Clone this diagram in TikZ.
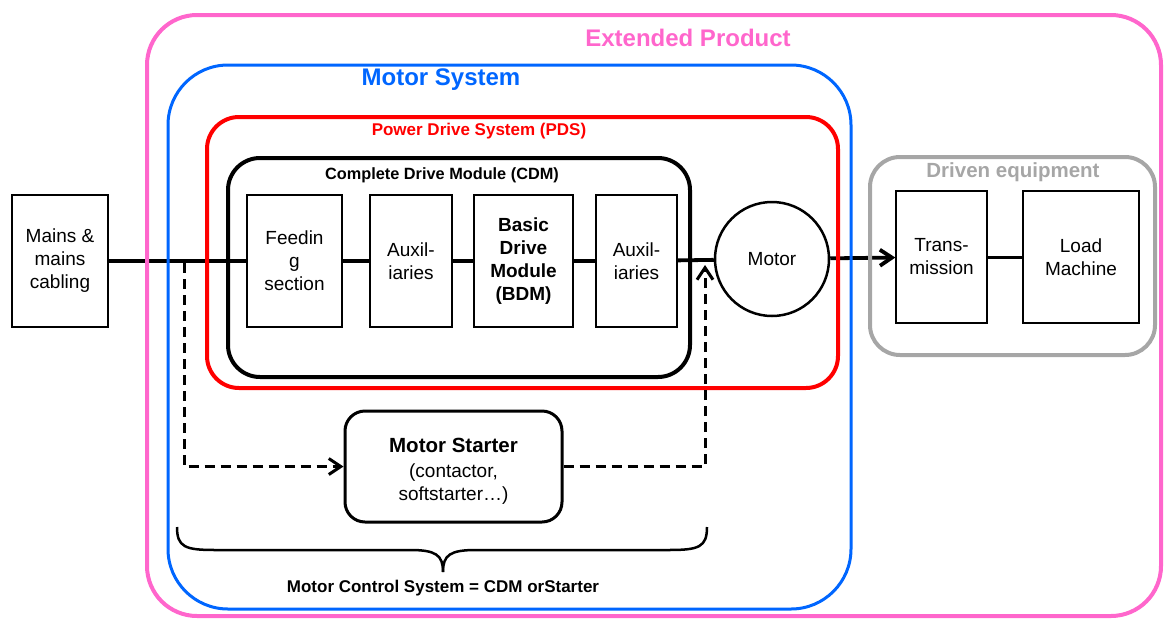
\documentclass[tikz,border=0pt]{standalone}
\usepackage{fontspec}
\setmainfont{Liberation Sans}
\usetikzlibrary{arrows.meta}
\definecolor{extpink}{RGB}{255,102,204}
\definecolor{msblue}{RGB}{0,102,255}
\definecolor{pdsred}{RGB}{255,0,0}
\definecolor{drvgray}{RGB}{166,166,166}
\newcommand{\fsz}[2]{\fontsize{#1}{#2}\selectfont}
\begin{document}
\begin{tikzpicture}[x=1pt,y=-1pt,
  container/.style={draw, inner sep=0pt, line width=4pt},
  blockbox/.style={draw, line width=1.3pt, inner sep=0pt, align=center,
    minimum height=132pt, font=\fsz{19}{23}},
  mainline/.style={line width=3.8pt},
  dashline/.style={line width=3pt, dash pattern=on 10pt off 6pt},
  barb/.style={-{Straight Barb[length=12pt,width=16pt]}},
  title/.style={inner sep=0pt, font=\bfseries}
]
\useasboundingbox (0,0) rectangle (1165,619);

% blocks
\node[blockbox, minimum width=96pt] (mains) at (60,261) {Mains \&\\mains\\cabling};
\node[blockbox, minimum width=95pt] (feed) at (294.5,261) {Feedin\\g\\section};
\node[blockbox, minimum width=82pt] (aux1) at (411,261) {Auxil-\\iaries};
\node[blockbox, minimum width=99pt, font=\fsz{19}{23}\bfseries] (bdm) at (523.5,261) {Basic\\Drive\\Module\\(BDM)};
\node[blockbox, minimum width=81pt] (aux2) at (636.5,261) {Auxil-\\iaries};
\node[draw, circle, line width=2.5pt, minimum size=114pt, inner sep=0pt, font=\fsz{19}{23}] (motor) at (772,259) {Motor};
\node[blockbox, minimum width=91pt] (trans) at (941.5,257) {Trans-\\mission};
\node[blockbox, minimum width=116pt] (load) at (1081,257) {Load\\Machine};

\node[draw, rounded corners=20pt, line width=3pt, minimum width=217pt, minimum height=111pt,
  inner sep=0pt,
  label={[align=center, font=\fsz{19}{23}, yshift=-5pt]center:{{\fsz{20.5}{25}\bfseries Motor Starter}\\[2pt](contactor,\\softstarter\dots)}}]
  (ms) at (453.5,466.5) {};

% main power line
\draw[mainline] (mains) -- (feed);
\draw[mainline] (feed) -- (aux1);
\draw[mainline] (aux1) -- (bdm);
\draw[mainline] (bdm) -- (aux2);
\draw[mainline] (aux2) -- (motor);
\draw[mainline, barb] (motor) -- (trans);
\draw[line width=3pt] (trans) -- (load);

% containers
\node[container, draw=extpink, rounded corners=50pt, minimum width=1014pt, minimum height=601pt] (ext) at (654,315.5) {};
\node[container, draw=msblue, line width=3pt, rounded corners=60pt, minimum width=683pt, minimum height=544pt] (msys) at (509.5,337) {};
\node[container, draw=pdsred, rounded corners=32pt, minimum width=631pt, minimum height=271pt] (pds) at (522.5,252.5) {};
\node[container, draw=black, rounded corners=32pt, minimum width=462pt, minimum height=219pt] (cdm) at (459,267.5) {};
\node[container, draw=drvgray, rounded corners=30pt, minimum width=285pt, minimum height=198pt] (drv) at (1012.5,256) {};

% titles
\node[title, text=extpink, font=\fsz{24}{28}\bfseries] (tExt) at (688,38) {Extended Product};
\node[title, text=msblue, font=\fsz{24}{28}\bfseries] (tMs) at (441,80) {Motor System};
\node[title, text=pdsred, font=\fsz{17}{20}\bfseries] (tPds) at (479,131) {Power Drive System (PDS)};
\node[title, font=\fsz{16.3}{19}\bfseries] (tCdm) at (442,175) {Complete Drive Module (CDM)};
\node[title, text=drvgray, font=\fsz{20.5}{24}\bfseries] (tDrv) at (1013,172) {Driven equipment};

% dashed starter path
\coordinate (jl) at (184,263);
\coordinate (jr) at (705,265);
\draw[dashline, barb] (jl) |- (ms);
\draw[dashline, barb] (ms) -| (jr);

% brace
\draw[line width=2.5pt] (177,527) .. controls (177,547) and (185,550) .. (215,550) -- (410,550)
  .. controls (436,550) and (443,555) .. (443,572);
\draw[line width=2.5pt] (707,527) .. controls (707,547) and (699,550) .. (669,550) -- (476,550)
  .. controls (450,550) and (443,555) .. (443,572);
\node[title, font=\fsz{17}{20}\bfseries] (tMcs) at (443,588) {Motor Control System = CDM orStarter};
\end{tikzpicture}
\end{document}
